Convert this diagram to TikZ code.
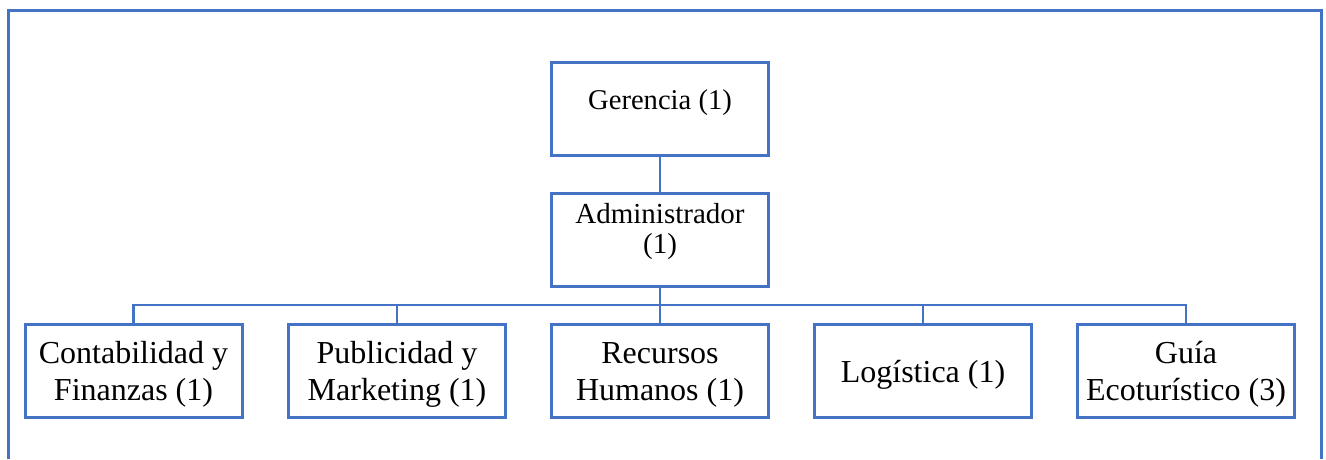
\documentclass[tikz,border=0pt]{standalone}
\usepackage{fontspec}
\setmainfont{Liberation Serif}
\definecolor{azul}{HTML}{4472C4}
\begin{document}
\begin{tikzpicture}[x=1pt, y=-1pt,
    unidad/.style={draw=azul, line width=3pt, minimum width=217pt, minimum height=93pt, inner sep=0pt},
    rotulo/.style={align=center, inner sep=0pt, font=\fontsize{32}{37}\selectfont},
    enlace/.style={draw=azul, line width=2.6pt}]
\useasboundingbox (0,0) rectangle (1326,459);
% marco exterior
\draw[azul, line width=3pt] (8,459) -- (8,10) -- (1321,10) -- (1321,459);
% gerencia y administrador
\node[unidad] (ger) at (660,108.5) {};
\node[rotulo, font=\fontsize{28.6}{34}\selectfont, yshift=6pt] (tger) at (ger.center) {Gerencia (1)};
\node[unidad] (adm) at (660,240) {};
\node[rotulo, font=\fontsize{29}{30}\selectfont, yshift=8pt] (tadm) at (adm.center) {Administrador\\(1)};
\draw[enlace] (ger.south) -- (adm.north);
\coordinate (bus) at (660,305);
\draw[enlace] (adm.south) -- (bus);
\foreach \nombre/\texto/\x in {cont/{Contabilidad y\\Finanzas (1)}/133.5, publ/{Publicidad y\\Marketing (1)}/397,
    rrhh/{Recursos\\Humanos (1)}/660, logi/{Logística (1)}/923, guia/{Guía\\Ecoturístico (3)}/1186} {
    \node[unidad] (\nombre) at (\x,370.5) {};
    \node[rotulo, yshift=-4pt] (t\nombre) at (\nombre.center) {\texto};
    \draw[enlace] (bus) -| (\nombre.north);
}
\end{tikzpicture}
\end{document}
